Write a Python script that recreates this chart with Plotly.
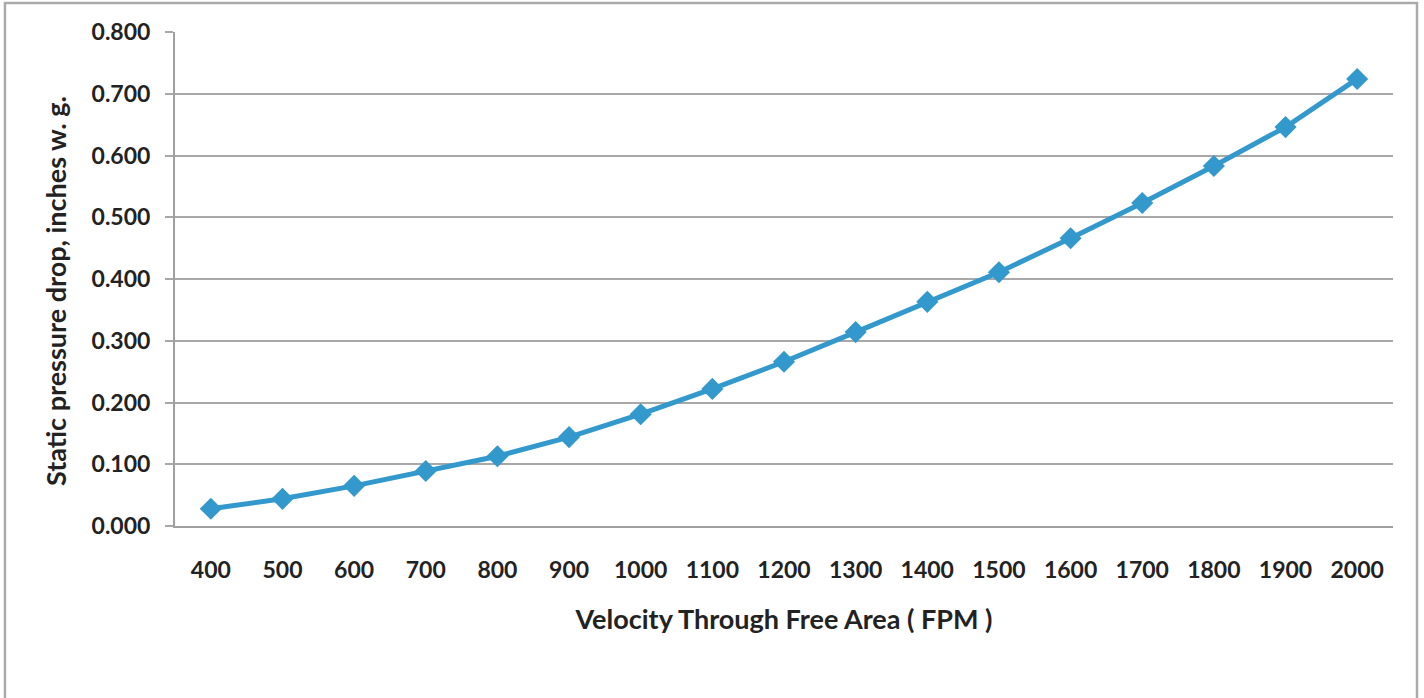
import plotly.graph_objects as go

velocity = ["400", "500", "600", "700", "800", "900", "1000", "1100", "1200",
            "1300", "1400", "1500", "1600", "1700", "1800", "1900", "2000"]
pressure = [0.028, 0.044, 0.065, 0.089, 0.113, 0.144, 0.181, 0.222, 0.266,
            0.314, 0.363, 0.411, 0.466, 0.523, 0.583, 0.646, 0.724]
y_ticks = [0.0, 0.1, 0.2, 0.3, 0.4, 0.5, 0.6, 0.7, 0.8]

FONT = "Lato"
fig = go.Figure()
fig.add_trace(go.Scatter(
    x=velocity, y=pressure, mode="lines+markers",
    line=dict(color="#3399cc", width=5),
    marker=dict(symbol="diamond", size=17, color="#3399cc"),
    showlegend=False,
))

fig.update_layout(
    width=1424, height=698,
    margin=dict(l=175, r=31, t=32, b=172),
    paper_bgcolor="white", plot_bgcolor="white",
    font=dict(family=FONT, color="#222222"),
    xaxis=dict(
        type="category", range=[-0.5, 16.5],
        showline=True, linecolor="#a0a0a0", linewidth=2,
        showgrid=False, ticks="",
        tickfont=dict(size=23, family=FONT, weight="bold"),
        ticklabelstandoff=22,
        title=dict(text="Velocity Through Free Area ( FPM )",
                   font=dict(size=27, family=FONT, weight="bold"), standoff=29),
    ),
    yaxis=dict(
        range=[0, 0.8], tickvals=y_ticks, tickformat=".3f",
        showline=True, linecolor="#a0a0a0", linewidth=2,
        showgrid=True, gridcolor="#a8a8a8", gridwidth=1.5,
        ticks="outside", ticklen=8, tickcolor="#a8a8a8", tickwidth=1.5,
        tickfont=dict(size=23, family=FONT, weight="bold"),
        ticklabelstandoff=10,
        zeroline=False,
    ),
)

fig.add_annotation(
    text="Static pressure drop, inches w. g.", textangle=-90,
    xref="paper", yref="paper", x=-0.0985, y=0.4757,
    xanchor="center", yanchor="middle", showarrow=False,
    font=dict(size=27, family=FONT, weight="bold", color="#222222"),
)

fig.add_shape(type="rect", xref="paper", yref="paper",
              x0=-0.1396, x1=1.0197, y0=-0.6, y1=1.0587,
              line=dict(color="#aaaaaa", width=2.5), layer="below")

fig.write_html("out.html", config={"displayModeBar": False},
               post_script="document.body.style.margin='0';")
